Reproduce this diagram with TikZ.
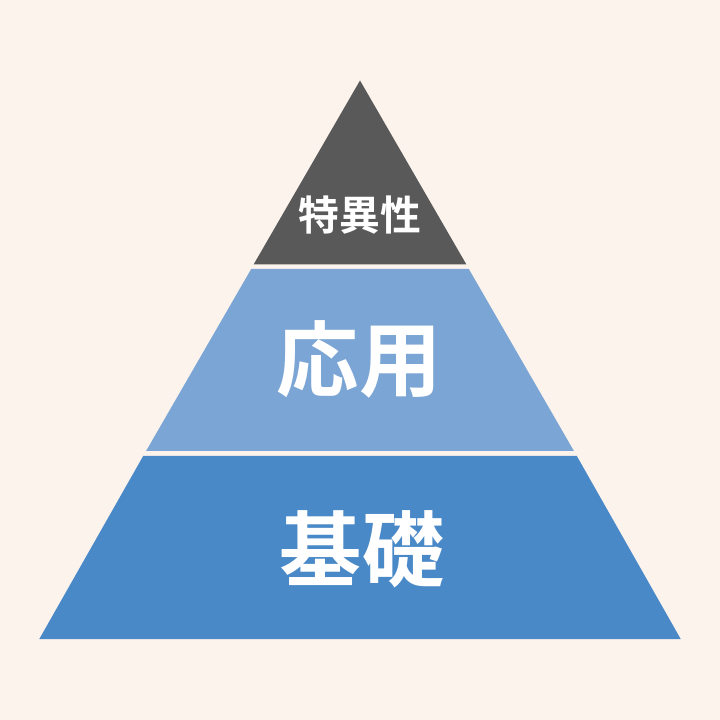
\documentclass[tikz,border=0pt]{standalone}
\usepackage{fontspec}
\newfontfamily\cjk{Noto Sans CJK JP}[BoldFont={Noto Sans CJK JP Bold}]
\usepackage{tikz}
\definecolor{haikei}{HTML}{FCF3ED}
\definecolor{tokui}{HTML}{595959}
\definecolor{ouyou}{HTML}{7BA5D4}
\definecolor{kiso}{HTML}{4A89C7}
\tikzset{
	dan/.style={text=white,font=\cjk\bfseries,inner sep=0pt}
}

\begin{document}
\begin{tikzpicture}[x=0.025cm,y=-0.025cm]
			\fill [haikei] (0,0) rectangle (720,720);
			\useasboundingbox (0,0) rectangle (720,720);
			
			\fill [tokui] (360,80.5)-- (253.6,264.5)-- (466.4,264.5)-- cycle;
			\fill [ouyou] (251.3,268.8)-- (146.2,450.8)-- (573.8,450.8)-- (468.7,268.8)-- cycle;
			\fill [kiso] (143.3,455.8)-- (39.3,639)-- (680.7,639)-- (576.7,455.8)-- cycle;
			
			\node[dan,font=\cjk\bfseries\fontsize{29}{29}\selectfont] (tokuisei) at (360,215) {特異性};
			\node[dan,font=\cjk\bfseries\fontsize{58.5}{58.5}\selectfont] (ouyou) at (359,359) {応用};
			\node[dan,font=\cjk\bfseries\fontsize{58.5}{58.5}\selectfont] (kiso) at (362,549) {基礎};
		\end{tikzpicture}
\end{document}
